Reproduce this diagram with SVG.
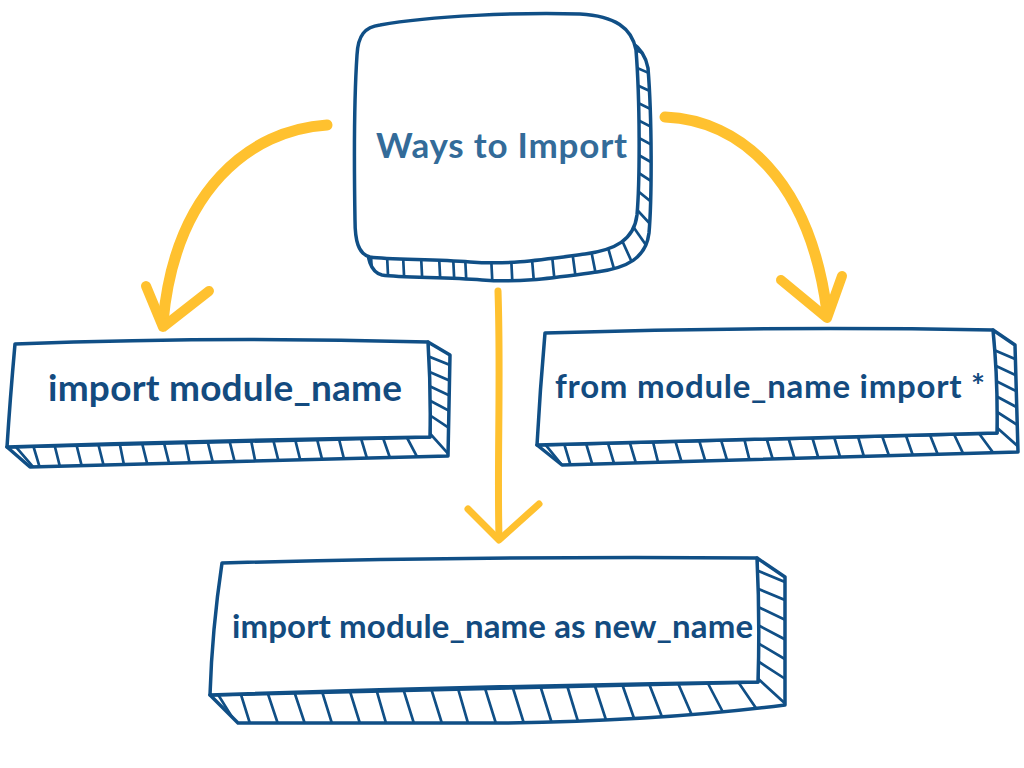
<svg xmlns="http://www.w3.org/2000/svg" width="1024" height="768" viewBox="0 0 1024 768">
<style>
.face{fill:#fff;stroke:#104f86;stroke-width:3.5;stroke-linejoin:round}
.depth{fill:#fff;stroke:#104f86;stroke-width:3.5;stroke-linejoin:round}
.hatch line{stroke:#104f86;stroke-width:2.7;stroke-linecap:round}
.lbl{font-family:Lato,"Open Sans","Liberation Sans",sans-serif;font-weight:700;fill:#134b7f}
.title{font-family:Lato,"Open Sans","Liberation Sans",sans-serif;font-weight:700;fill:#336b99}
.arr{fill:none;stroke:#ffc12f;stroke-linecap:round;stroke-linejoin:round}
</style>
<defs>
<path id="blob" d="M380,25 C430,16 520,12 580,14 C615,16 632,28 636,50 C640,100 640,180 637,215 C634,240 615,250 585,254 C540,260 510,265 470,262 C430,259 390,260 370,257 C358,254 355,240 355,220 C354,160 354,100 357,55 C358,35 365,27 380,25 Z"/>
<clipPath id="cTop"><use href="#blob" transform="translate(12,18)"/></clipPath>
<clipPath id="cLeft"><polygon points="428,342 450,355 448,456 30,467 7,447 430,437"/></clipPath>
<clipPath id="cRight"><polygon points="993,330 1015,345 1018,452 562,465 537,445 997,433"/></clipPath>
<clipPath id="cBottom"><path d="M757,558 L785,577 L785,705 C700,716 600,722 500,723 L238,723 L210,695 L758,682 Z"/></clipPath>
</defs>

<g id="connectors">
<path class="arr" stroke-width="11" d="M327,125 C250,130 175,190 163,322"/>
<path class="arr" stroke-width="10" d="M146,286 L163,327 L209,291"/>
<path class="arr" stroke-width="11" d="M665,117 C740,120 810,180 827,312"/>
<path class="arr" stroke-width="10" d="M781,280 L827,318 L842,276"/>
<path class="arr" stroke-width="7" d="M498,291 C501,380 497,460 499,538"/>
<path class="arr" stroke-width="7" d="M468,509 L499,540 L539,504"/>
</g>

<g id="node-top">
<use href="#blob" class="depth" transform="translate(12,18)"/>
<g class="hatch" clip-path="url(#cTop)">
<line x1="370" y1="235" x2="373" y2="295"/>
<line x1="386" y1="235" x2="389" y2="295"/>
<line x1="402" y1="235" x2="405" y2="295"/>
<line x1="420" y1="235" x2="423" y2="295"/>
<line x1="438" y1="235" x2="441" y2="295"/>
<line x1="452" y1="235" x2="455" y2="295"/>
<line x1="464" y1="235" x2="467" y2="295"/>
<line x1="490" y1="235" x2="493" y2="295"/>
<line x1="510" y1="235" x2="513" y2="295"/>
<line x1="530" y1="235" x2="535" y2="295"/>
<line x1="550" y1="235" x2="556" y2="295"/>
<line x1="570" y1="235" x2="578" y2="295"/>
<line x1="588" y1="235" x2="600" y2="295"/>
<line x1="603" y1="230" x2="620" y2="290"/>
<line x1="615" y1="225" x2="640" y2="280"/>
<line x1="625" y1="215" x2="660" y2="265"/>
<line x1="628" y1="200" x2="665" y2="240"/>
<line x1="628" y1="183" x2="665" y2="213"/>
<line x1="628" y1="166" x2="665" y2="190"/>
<line x1="628" y1="149" x2="665" y2="170"/>
<line x1="628" y1="132" x2="665" y2="152"/>
<line x1="628" y1="115" x2="665" y2="134"/>
<line x1="628" y1="98" x2="665" y2="116"/>
<line x1="628" y1="81" x2="665" y2="98"/>
<line x1="628" y1="64" x2="665" y2="80"/>
<line x1="628" y1="47" x2="665" y2="62"/>
</g>
<use href="#blob" class="face"/>
<text class="title" x="376" y="158" font-size="35" textLength="251" lengthAdjust="spacing">Ways to Import</text>
</g>

<g id="node-left">
<polygon class="depth" points="428,342 450,355 448,456 30,467 7,447 430,437"/>
<g class="hatch" clip-path="url(#cLeft)">
<line x1="10" y1="440" x2="40" y2="475"/>
<line x1="30" y1="435" x2="42" y2="475"/>
<line x1="52" y1="435" x2="62" y2="475"/>
<line x1="74" y1="435" x2="84" y2="475"/>
<line x1="96" y1="435" x2="106" y2="475"/>
<line x1="118" y1="435" x2="126" y2="475"/>
<line x1="140" y1="435" x2="150" y2="475"/>
<line x1="162" y1="435" x2="172" y2="475"/>
<line x1="184" y1="435" x2="192" y2="475"/>
<line x1="206" y1="435" x2="216" y2="475"/>
<line x1="228" y1="435" x2="238" y2="475"/>
<line x1="250" y1="435" x2="258" y2="475"/>
<line x1="272" y1="435" x2="282" y2="475"/>
<line x1="294" y1="435" x2="304" y2="475"/>
<line x1="316" y1="435" x2="326" y2="475"/>
<line x1="338" y1="435" x2="348" y2="475"/>
<line x1="360" y1="435" x2="372" y2="475"/>
<line x1="382" y1="435" x2="396" y2="475"/>
<line x1="404" y1="432" x2="424" y2="470"/>
<line x1="425" y1="428" x2="452" y2="458"/>
<line x1="425" y1="412" x2="455" y2="432"/>
<line x1="425" y1="398" x2="455" y2="414"/>
<line x1="425" y1="384" x2="455" y2="398"/>
<line x1="425" y1="370" x2="455" y2="383"/>
<line x1="425" y1="355" x2="455" y2="367"/>
</g>
<path class="face" d="M15,344 Q220,336 428,342 Q431,390 430,437 Q220,440 7,447 Q10,400 15,344 Z"/>
<text class="lbl" x="48" y="401" font-size="37" textLength="354" lengthAdjust="spacing">import module_name</text>
</g>

<g id="node-right">
<polygon class="depth" points="993,330 1015,345 1018,452 562,465 537,445 997,433"/>
<g class="hatch" clip-path="url(#cRight)">
<line x1="540" y1="438" x2="566" y2="470"/>
<line x1="560" y1="430" x2="572" y2="470"/>
<line x1="582" y1="430" x2="594" y2="470"/>
<line x1="604" y1="430" x2="616" y2="470"/>
<line x1="626" y1="430" x2="638" y2="470"/>
<line x1="650" y1="430" x2="660" y2="470"/>
<line x1="672" y1="430" x2="684" y2="470"/>
<line x1="696" y1="430" x2="708" y2="470"/>
<line x1="718" y1="430" x2="730" y2="470"/>
<line x1="742" y1="430" x2="752" y2="470"/>
<line x1="764" y1="430" x2="776" y2="470"/>
<line x1="786" y1="430" x2="798" y2="470"/>
<line x1="810" y1="430" x2="822" y2="470"/>
<line x1="832" y1="430" x2="844" y2="470"/>
<line x1="856" y1="430" x2="868" y2="470"/>
<line x1="880" y1="430" x2="894" y2="470"/>
<line x1="904" y1="430" x2="918" y2="470"/>
<line x1="928" y1="430" x2="944" y2="470"/>
<line x1="952" y1="430" x2="970" y2="468"/>
<line x1="975" y1="428" x2="1000" y2="462"/>
<line x1="994" y1="425" x2="1022" y2="450"/>
<line x1="994" y1="410" x2="1022" y2="428"/>
<line x1="994" y1="395" x2="1022" y2="410"/>
<line x1="994" y1="380" x2="1022" y2="394"/>
<line x1="994" y1="365" x2="1022" y2="378"/>
<line x1="994" y1="350" x2="1022" y2="362"/>
</g>
<path class="face" d="M545,333 Q770,326 993,330 Q998,380 997,433 Q770,438 537,445 Q540,390 545,333 Z"/>
<text class="lbl" x="555" y="398" font-size="33" textLength="430" lengthAdjust="spacing">from module_name import *</text>
</g>

<g id="node-bottom">
<path class="depth" d="M757,558 L785,577 L785,705 C700,716 600,722 500,723 L238,723 L210,695 L758,682 Z"/>
<g class="hatch" clip-path="url(#cBottom)">
<line x1="214" y1="688" x2="240" y2="730"/>
<line x1="238" y1="685" x2="252" y2="730"/>
<line x1="265" y1="685" x2="280" y2="730"/>
<line x1="292" y1="685" x2="307" y2="730"/>
<line x1="320" y1="685" x2="334" y2="730"/>
<line x1="348" y1="685" x2="362" y2="730"/>
<line x1="375" y1="685" x2="388" y2="730"/>
<line x1="402" y1="685" x2="416" y2="730"/>
<line x1="430" y1="685" x2="444" y2="730"/>
<line x1="457" y1="685" x2="470" y2="730"/>
<line x1="484" y1="685" x2="498" y2="730"/>
<line x1="512" y1="685" x2="526" y2="730"/>
<line x1="540" y1="685" x2="554" y2="730"/>
<line x1="566" y1="682" x2="580" y2="728"/>
<line x1="593" y1="680" x2="608" y2="726"/>
<line x1="620" y1="678" x2="636" y2="724"/>
<line x1="646" y1="676" x2="664" y2="722"/>
<line x1="674" y1="674" x2="694" y2="720"/>
<line x1="702" y1="672" x2="726" y2="718"/>
<line x1="730" y1="670" x2="760" y2="714"/>
<line x1="754" y1="675" x2="790" y2="708"/>
<line x1="756" y1="660" x2="790" y2="682"/>
<line x1="756" y1="642" x2="790" y2="662"/>
<line x1="756" y1="624" x2="790" y2="642"/>
<line x1="756" y1="606" x2="790" y2="622"/>
<line x1="756" y1="588" x2="790" y2="602"/>
<line x1="756" y1="570" x2="790" y2="584"/>
</g>
<path class="face" d="M222,563 Q480,556 757,558 Q760,620 758,682 Q480,686 210,695 Q212,630 222,563 Z"/>
<text class="lbl" x="232" y="638" font-size="33" textLength="521" lengthAdjust="spacing">import module_name as new_name</text>
</g>
</svg>
